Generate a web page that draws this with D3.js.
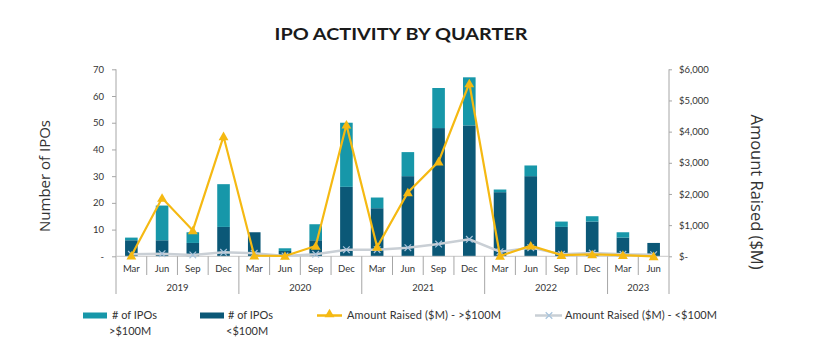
<!DOCTYPE html>
<html>
<head>
<meta charset="UTF-8">
<title>IPO Activity by Quarter</title>
<script src="https://d3js.org/d3.v7.min.js"></script>
<style>
  body { margin: 0; background: #fff; }
  text { font-family: Lato, "Open Sans", sans-serif; fill: #333; }
  .axis path, .axis line { stroke: #a6a6a6; }
  .axis text { font-size: 9.5px; }
</style>
</head>
<body>
<svg id="chart" width="828" height="361"></svg>
<script>
// quarters, in order
const years = ["2019", "2020", "2021", "2022", "2023"];
const yearQuarters = [4, 4, 4, 4, 2];
const months = ["Mar", "Jun", "Sep", "Dec", "Mar", "Jun", "Sep", "Dec", "Mar", "Jun", "Sep", "Dec",
                "Mar", "Jun", "Sep", "Dec", "Mar", "Jun"];

// # of IPOs
const iposOver100 = [1, 13, 4, 16, 0, 1, 6, 24, 4, 9, 15, 18, 1, 4, 2, 2, 2, 0];
const iposUnder100 = [6, 6, 5, 11, 9, 2, 6, 26, 18, 30, 48, 49, 24, 30, 11, 13, 7, 5];

// amount raised ($M)
const raisedOver100 = [20, 1870, 830, 3850, 20, 10, 330, 4220, 300, 2050, 3040, 5550, 10, 340, 40, 60, 40, 0];
const raisedUnder100 = [64, 83, 42, 128, 96, 10, 64, 212, 212, 276, 394, 546, 148, 276, 64, 106, 64, 51];

const leftTicks = [0, 10, 20, 30, 40, 50, 60, 70];
const rightTicks = [0, 1000, 2000, 3000, 4000, 5000, 6000];

const colTeal = "#1797a9", colDark = "#0b5877", colGold = "#f5b912", colGray = "#c9cfd5";

const svg = d3.select("#chart");
const keys = months.map((m, i) => i);

const x = d3.scaleBand().domain(keys).range([116, 669]).padding(0);
const yL = d3.scaleLinear().domain([0, 70]).range([256.3, 69.3]);
const yR = d3.scaleLinear().domain([0, 6000]).range([256.3, 69.3]);

// title
svg.append("text")
    .attr("x", 401).attr("y", 40)
    .attr("text-anchor", "middle")
    .attr("textLength", 253).attr("lengthAdjust", "spacingAndGlyphs")
    .style("font-family", "Lato, sans-serif")
    .style("font-weight", "bold").style("font-size", "17.5px").style("fill", "#1a1a1a")
    .text("IPO ACTIVITY BY QUARTER");

// axis titles
svg.append("text")
    .attr("transform", "translate(50,176) rotate(-90)")
    .attr("text-anchor", "middle")
    .style("font-size", "15px").style("font-family", "'Open Sans', sans-serif")
    .text("Number of IPOs");
svg.append("text")
    .attr("transform", "translate(751,192) rotate(90)")
    .attr("text-anchor", "middle")
    .style("font-size", "16.5px").style("font-family", "'Open Sans', sans-serif")
    .text("Amount Raised ($M)");

// bars
const bw = x.bandwidth() * 0.41;
const bars = svg.append("g");
bars.selectAll("rect.under").data(keys).join("rect")
    .attr("x", i => x(i) + (x.bandwidth() - bw) / 2)
    .attr("width", bw)
    .attr("y", i => yL(iposUnder100[i]))
    .attr("height", i => yL(0) - yL(iposUnder100[i]))
    .attr("fill", colDark);
bars.selectAll("rect.over").data(keys).join("rect")
    .attr("x", i => x(i) + (x.bandwidth() - bw) / 2)
    .attr("width", bw)
    .attr("y", i => yL(iposUnder100[i] + iposOver100[i]))
    .attr("height", i => yL(iposUnder100[i]) - yL(iposUnder100[i] + iposOver100[i]))
    .attr("fill", colTeal);

// axes
const leftAxis = svg.append("g").attr("class", "axis")
    .attr("transform", "translate(116,0)")
    .call(d3.axisLeft(yL).tickValues(leftTicks).tickSize(4).tickSizeOuter(0).tickPadding(8)
        .tickFormat(d => d === 0 ? "-" : d));
leftAxis.select(".domain").remove();
svg.append("line").attr("x1", 116).attr("x2", 116).attr("y1", 69.3).attr("y2", 294)
    .attr("stroke", "#a6a6a6");

const rightAxis = svg.append("g").attr("class", "axis")
    .attr("transform", "translate(669,0)")
    .call(d3.axisRight(yR).tickValues(rightTicks).tickSize(3).tickSizeOuter(0).tickPadding(7)
        .tickFormat(d => d === 0 ? "$-" : "$" + d3.format(",")(d)));
rightAxis.select(".domain").remove();
svg.append("line").attr("x1", 669).attr("x2", 669).attr("y1", 69.3).attr("y2", 294)
    .attr("stroke", "#a6a6a6");

// baseline
svg.append("line").attr("x1", 116).attr("x2", 669).attr("y1", yL(0)).attr("y2", yL(0))
    .attr("stroke", "#c8c8c8");

// category separators and labels
const xg = svg.append("g");
let yearStart = [];
let acc = 0;
yearQuarters.forEach(n => { yearStart.push(acc); acc += n; });
keys.slice(1).forEach(i => {
  const isYear = yearStart.includes(i);
  xg.append("line")
      .attr("x1", x(i)).attr("x2", x(i))
      .attr("y1", yL(0)).attr("y2", isYear ? 294 : 275)
      .attr("stroke", "#a6a6a6");
});
xg.selectAll("text.m").data(keys).join("text")
    .attr("x", i => x(i) + x.bandwidth() / 2)
    .attr("y", 271.5)
    .attr("text-anchor", "middle")
    .style("font-size", "9.5px")
    .text(i => months[i]);
xg.selectAll("text.y").data(years).join("text")
    .attr("x", (d, j) => (x(yearStart[j]) + x(yearStart[j] + yearQuarters[j] - 1) + x.bandwidth()) / 2)
    .attr("y", 290.5)
    .attr("text-anchor", "middle")
    .style("font-size", "9.5px")
    .text(d => d);

// lines
const cx = i => x(i) + x.bandwidth() / 2;
const lineUnder = d3.line().x(i => cx(i)).y(i => yR(raisedUnder100[i]));
const lineOver = d3.line().x(i => cx(i)).y(i => yR(raisedOver100[i]));

svg.append("path").datum(keys).attr("d", lineUnder)
    .attr("fill", "none").attr("stroke", colGray).attr("stroke-width", 2.4);
const crossSym = d3.symbol().type(d3.symbolX).size(30);
svg.append("g").selectAll("path").data(keys).join("path")
    .attr("transform", i => `translate(${cx(i)},${yR(raisedUnder100[i])})`)
    .attr("d", crossSym)
    .attr("fill", "none").attr("stroke", "#a9c4dc").attr("stroke-width", 1.2);

svg.append("path").datum(keys).attr("d", lineOver)
    .attr("fill", "none").attr("stroke", colGold).attr("stroke-width", 2.2);
const triSym = d3.symbol().type(d3.symbolTriangle).size(42);
svg.append("g").selectAll("path").data(keys).join("path")
    .attr("transform", i => `translate(${cx(i)},${yR(raisedOver100[i]) + 1})`)
    .attr("d", triSym)
    .attr("fill", colGold);

// legend
const lg = svg.append("g").style("font-size", "11px");
lg.append("rect").attr("x", 83).attr("y", 312.5).attr("width", 24).attr("height", 6).attr("fill", colTeal);
lg.append("text").attr("x", 112).attr("y", 319).style("font-size", "11px").text("# of IPOs");
lg.append("text").attr("x", 109).attr("y", 335).style("font-size", "11px").text(">$100M");
lg.append("rect").attr("x", 200).attr("y", 312.5).attr("width", 24).attr("height", 6).attr("fill", colDark);
lg.append("text").attr("x", 228).attr("y", 319).style("font-size", "11px").text("# of IPOs");
lg.append("text").attr("x", 226).attr("y", 335).style("font-size", "11px").text("<$100M");
lg.append("line").attr("x1", 317).attr("x2", 342).attr("y1", 315.5).attr("y2", 315.5)
    .attr("stroke", colGold).attr("stroke-width", 2.5);
lg.append("path").attr("transform", "translate(329.5,314.5)").attr("d", triSym).attr("fill", colGold);
lg.append("text").attr("x", 347).attr("y", 319).attr("textLength", 154)
    .style("font-size", "11px").text("Amount Raised ($M) - >$100M");
lg.append("line").attr("x1", 535).attr("x2", 562).attr("y1", 315.5).attr("y2", 315.5)
    .attr("stroke", colGray).attr("stroke-width", 2.5);
lg.append("path").attr("transform", "translate(549,315.5)").attr("d", crossSym)
    .attr("fill", "none").attr("stroke", "#a9c4dc").attr("stroke-width", 1.2);
lg.append("text").attr("x", 565).attr("y", 319).attr("textLength", 152)
    .style("font-size", "11px").text("Amount Raised ($M) - <$100M");
</script>
</body>
</html>
